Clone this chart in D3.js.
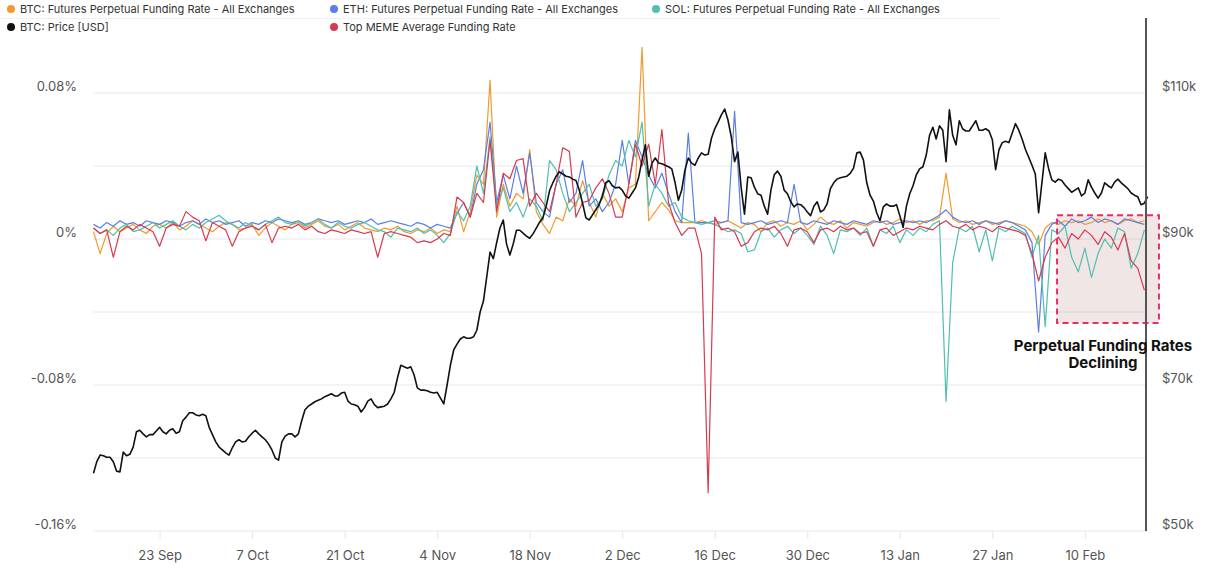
<!DOCTYPE html>
<html>
<head>
<meta charset="utf-8">
<script src="https://cdn.jsdelivr.net/npm/d3@7"></script>
<style>
  body { margin: 0; background: #fff; font-family: Inter, "Noto Sans", sans-serif; }
  svg text { font-family: Inter, "Noto Sans", sans-serif; }
</style>
</head>
<body>
<script>
// ---- data ----
const seriesStart = "2024-09-13";
const tickDates = ["2024-09-23", "2024-10-07", "2024-10-21", "2024-11-04", "2024-11-18", "2024-12-02",
  "2024-12-16", "2024-12-30", "2025-01-13", "2025-01-27", "2025-02-10"];
const leftTicks = [-0.16, -0.08, 0, 0.08];
const gridTicks = [-0.16, -0.12, -0.08, -0.04, 0, 0.04, 0.08];
const rightTicks = [50, 70, 90, 110];
const seriesNames = ["BTC: Futures Perpetual Funding Rate - All Exchanges", "ETH: Futures Perpetual Funding Rate - All Exchanges",
  "SOL: Futures Perpetual Funding Rate - All Exchanges", "BTC: Price [USD]", "Top MEME Average Funding Rate"];
const noteText = ["Perpetual Funding Rates", "Declining"];

// daily funding rate, in %
const btcFunding = [
  0.004, -0.008, 0.003, 0.007, 0.004, 0.006, 0.008, 0.005, 0.003, 0.007,
  0.008, 0.006, 0.009, 0.005, 0.007, 0.010, 0.008, 0.006, 0.004, 0.007,
  0.009, 0.008, 0.005, 0.006, 0.008, 0.002, 0.006, 0.009, 0.007, 0.005,
  0.008, 0.009, 0.006, 0.008, 0.010, 0.007, 0.006, 0.008, 0.005, 0.007,
  0.009, 0.006, 0.005, 0.004, 0.006, 0.005, 0.007, 0.004, 0.003, 0.005,
  0.004, 0.006, 0.003, 0.005, 0.004, 0.018, 0.004, 0.015, 0.035, 0.030,
  0.087, 0.012, 0.030, 0.018, 0.025, 0.022, 0.049, 0.015, 0.008, 0.003,
  0.012, 0.010, 0.022, 0.018, 0.032, 0.020, 0.012, 0.025, 0.018, 0.022,
  0.015, 0.028, 0.030, 0.105, 0.010, 0.015, 0.020, 0.016, 0.010, 0.009,
  0.009, 0.009, 0.010, 0.009, 0.008, 0.009, 0.010, 0.008, 0.006, 0.009,
  0.008, 0.004, 0.009, 0.010, 0.007, 0.009, 0.008, 0.010, 0.005, 0.008,
  0.012, 0.009, 0.008, 0.010, 0.006, 0.009, 0.008, 0.007, 0.009, 0.010,
  0.008, 0.009, 0.011, 0.009, 0.010, 0.008, 0.010, 0.010, 0.012, 0.036,
  0.011, 0.009, 0.010, 0.008, 0.009, 0.010, 0.008, 0.009, 0.010, 0.009,
  0.008, 0.007, 0.004, -0.003, 0.006, 0.009, 0.008, 0.010, 0.009, 0.010,
  0.008, 0.009, 0.011, 0.009, 0.010, 0.008, 0.010, 0.011, 0.009, 0.010
];
const ethFunding = [
  0.008, 0.006, 0.009, 0.007, 0.010, 0.008, 0.009, 0.007, 0.010, 0.009,
  0.008, 0.010, 0.009, 0.007, 0.009, 0.010, 0.008, 0.011, 0.009, 0.010,
  0.008, 0.009, 0.010, 0.007, 0.009, 0.008, 0.010, 0.009, 0.011, 0.010,
  0.009, 0.010, 0.008, 0.009, 0.011, 0.010, 0.009, 0.010, 0.008, 0.009,
  0.010, 0.009, 0.011, 0.008, 0.009, 0.010, 0.009, 0.008, 0.007, 0.009,
  0.008, 0.006, 0.008, 0.007, 0.006, 0.014, 0.020, 0.012, 0.030, 0.038,
  0.064, 0.020, 0.035, 0.022, 0.040, 0.025, 0.047, 0.020, 0.015, 0.012,
  0.030, 0.038, 0.020, 0.025, 0.043, 0.018, 0.022, 0.015, 0.020, 0.030,
  0.054, 0.030, 0.054, 0.045, 0.035, 0.028, 0.036, 0.025, 0.015, 0.009,
  0.058, 0.009, 0.009, 0.009, 0.010, 0.009, 0.010, 0.070, 0.009, 0.008,
  0.009, 0.010, 0.008, 0.009, 0.010, 0.009, 0.030, 0.009, 0.008, 0.010,
  0.009, 0.008, 0.010, 0.009, 0.008, 0.010, 0.009, 0.008, 0.010, 0.009,
  0.010, 0.008, 0.009, 0.010, 0.009, 0.010, 0.009, 0.011, 0.013, 0.016,
  0.012, 0.010, 0.009, 0.010, 0.008, 0.010, 0.009, 0.008, 0.010, 0.009,
  0.007, 0.005, -0.002, -0.051, 0.002, 0.008, 0.010, 0.007, 0.011, 0.009,
  0.010, 0.012, 0.009, 0.011, 0.010, 0.008, 0.011, 0.010, 0.009, 0.008
];
const solFunding = [
  0.006, 0.003, 0.005, 0.002, 0.006, 0.008, 0.004, 0.005, 0.007, 0.009,
  0.006, 0.008, 0.010, 0.007, 0.005, 0.008, 0.006, 0.009, 0.011, 0.013,
  0.010, 0.008, 0.006, 0.009, 0.007, 0.005, 0.008, 0.010, 0.012, 0.009,
  0.008, 0.010, 0.007, 0.009, 0.011, 0.008, 0.006, 0.009, 0.007, 0.006,
  0.008, 0.009, 0.007, 0.005, 0.004, 0.001, 0.006, 0.005, 0.004, 0.006,
  0.003, 0.005, 0.002, -0.002, 0.003, 0.015, 0.010, 0.018, 0.040, 0.025,
  0.056, 0.018, 0.028, 0.015, 0.020, 0.012, 0.022, 0.018, 0.010, 0.043,
  0.038, 0.025, 0.015, 0.020, 0.025, 0.030, 0.018, 0.022, 0.035, 0.043,
  0.040, 0.054, 0.045, 0.064, 0.018, 0.030, 0.025, 0.018, 0.020, 0.012,
  0.010, 0.009, 0.008, 0.009, 0.008, 0.006, 0.004, 0.005, 0.003, -0.007,
  -0.006, 0.004, 0.006, 0.001, 0.005, 0.007, 0.003, 0.006, 0.002, -0.003,
  0.007, 0.002, -0.008, 0.005, 0.004, 0.006, 0.002, 0.006, -0.004, 0.005,
  0.003, 0.007, -0.002, 0.005, 0.002, 0.006, 0.004, 0.008, 0.010, -0.089,
  -0.013, 0.006, 0.004, 0.007, -0.007, 0.005, -0.012, 0.006, 0.004, 0.007,
  0.005, 0.003, -0.010, 0.002, -0.048, 0.005, 0.003, 0.007, -0.010, -0.018,
  -0.005, -0.021, -0.008, 0.000, -0.005, 0.006, 0.004, -0.016, -0.008, 0.005
];
const memeFunding = [
  0.006, 0.003, 0.005, -0.010, 0.004, 0.007, 0.005, 0.008, 0.006, 0.004,
  -0.004, 0.006, 0.008, 0.007, 0.015, 0.012, 0.010, -0.001, 0.009, 0.007,
  0.005, -0.004, 0.004, 0.006, 0.007, 0.005, 0.008, -0.002, 0.006, 0.007,
  0.006, 0.008, 0.005, 0.007, 0.004, 0.003, 0.005, 0.004, 0.003, 0.005,
  0.004, 0.003, 0.004, -0.010, 0.003, 0.004, 0.003, 0.002, 0.001, -0.002,
  -0.001, -0.002, 0.000, 0.003, 0.002, 0.023, 0.020, 0.012, 0.025, 0.020,
  0.054, 0.015, 0.036, 0.033, 0.043, 0.044, 0.018, 0.025, 0.020, 0.015,
  0.030, 0.050, 0.048, 0.012, 0.020, 0.021, 0.028, 0.033, 0.025, 0.012,
  0.012, 0.030, 0.052, 0.040, 0.052, 0.030, 0.060, 0.020, 0.009, 0.002,
  0.006, 0.006, -0.008, -0.139, 0.012, 0.005, 0.006, 0.004, -0.004, -0.002,
  0.004, 0.006, 0.005, 0.007, 0.003, -0.004, 0.005, 0.006, 0.004, -0.002,
  0.005, 0.006, 0.004, 0.007, 0.005, 0.006, 0.003, 0.004, -0.004, 0.005,
  0.006, 0.002, 0.004, 0.006, 0.005, 0.007, 0.006, 0.005, 0.008, 0.010,
  0.007, 0.006, 0.008, 0.005, 0.007, 0.006, 0.004, 0.007, 0.006, 0.005,
  0.004, 0.002, -0.008, -0.023, -0.010, -0.002, 0.001, -0.005, 0.003, 0.000,
  0.005, 0.002, -0.003, 0.004, 0.001, -0.006, 0.003, -0.012, -0.016, -0.028
];
// BTC price every 12 hours, in $k
const btcPrice = [
  57.9, 59.5, 60.4, 60.3, 60.1, 60.1, 59.5, 58.2, 58.1, 60.8,
  60.3, 60.5, 61.5, 63.6, 63.8, 63.3, 62.9, 63.2, 63.2, 63.7,
  64.2, 63.6, 63.3, 63.8, 64.0, 63.4, 63.6, 65.1, 65.6, 66.2,
  66.2, 65.9, 65.8, 66.0, 65.8, 64.2, 63.2, 62.2, 61.5, 61.1,
  60.7, 60.4, 61.4, 62.2, 62.5, 62.2, 62.3, 62.9, 63.4, 63.8,
  63.3, 62.9, 62.5, 61.9, 61.1, 60.0, 59.7, 62.2, 63.0, 63.3,
  63.3, 62.9, 63.3, 65.1, 66.6, 67.1, 67.4, 67.7, 67.9, 68.1,
  68.4, 68.6, 68.8, 68.5, 68.5, 68.9, 69.0, 67.8, 67.4, 67.3,
  67.1, 66.3, 66.9, 67.8, 68.1, 67.3, 66.9, 67.0, 67.1, 67.4,
  68.1, 69.0, 71.0, 72.7, 72.5, 72.3, 72.5, 71.4, 69.6, 69.3,
  69.3, 69.2, 69.0, 68.9, 69.0, 68.2, 67.4, 70.0, 72.7, 74.8,
  75.6, 76.3, 76.6, 76.4, 76.4, 76.6, 77.5, 80.0, 81.5, 84.8,
  88.2, 87.3, 89.5, 91.5, 92.6, 89.3, 87.8, 89.3, 91.2, 91.2,
  90.8, 90.4, 90.1, 90.7, 91.5, 92.3, 92.9, 94.5, 96.6, 97.7,
  98.6, 99.2, 98.9, 98.6, 98.5, 98.2, 98.0, 96.7, 94.9, 92.9,
  92.6, 93.3, 94.0, 94.7, 95.9, 97.7, 98.0, 97.3, 97.0, 97.1,
  96.7, 95.9, 95.6, 96.3, 97.0, 98.5, 100.8, 102.9, 98.6, 100.4,
  101.1, 100.4, 100.3, 100.1, 99.9, 99.6, 97.7, 95.3, 96.7, 99.5,
  101.1, 100.4, 100.1, 101.1, 101.8, 101.5, 101.6, 103.8, 105.1, 106.0,
  107.0, 107.8, 106.3, 104.0, 100.6, 101.9, 97.0, 93.4, 98.5, 98.4,
  97.1, 96.2, 96.0, 94.5, 93.4, 96.7, 98.8, 99.3, 98.6, 96.7,
  96.2, 95.1, 94.4, 94.8, 94.7, 94.3, 93.7, 93.2, 94.5, 95.1,
  93.7, 94.0, 94.8, 96.9, 97.7, 98.2, 98.4, 98.5, 98.6, 99.0,
  99.7, 101.8, 101.9, 100.8, 97.7, 96.0, 95.2, 93.6, 92.5, 94.4,
  94.8, 94.5, 94.5, 94.7, 93.2, 91.6, 94.5, 96.2, 97.3, 98.8,
  99.6, 99.9, 101.5, 104.2, 105.3, 103.7, 105.5, 104.9, 100.6, 107.7,
  104.2, 102.9, 106.2, 105.1, 104.8, 104.8, 105.5, 106.2, 104.9, 104.9,
  105.1, 104.8, 103.6, 99.5, 102.2, 103.2, 103.4, 103.2, 104.5, 105.8,
  104.9, 103.7, 102.3, 101.2, 100.1, 98.9, 93.6, 97.7, 101.8, 99.7,
  98.1, 97.8, 98.2, 98.0, 97.4, 96.9, 96.4, 96.7, 97.0, 95.9,
  96.3, 98.1, 97.1, 96.3, 95.6, 96.3, 97.7, 97.3, 97.0, 97.8,
  98.2, 97.7, 97.3, 96.9, 96.3, 96.0, 95.8, 94.7, 94.9, 95.8
];
const noteFrom = "2025-02-05T19:00";
const noteTo = "2025-02-21T05:00";
const noteRate = [0.013, -0.046];

// ---- chart ----
const W = 1205, H = 572;
const parseDay = d3.timeParse("%Y-%m-%d");
const parseHour = d3.timeParse("%Y-%m-%dT%H:%M");
const start = parseDay(seriesStart);

const x = d3.scaleTime()
  .domain([start, d3.timeHour.offset(start, 159 * 24 + 6)])
  .range([93.5, 1146]);
const yL = d3.scaleLinear().domain([-0.16, 0.08]).range([531, 93]);
const yR = d3.scaleLinear().domain([50, 110]).range([531, 93]);

const svg = d3.select("body").append("svg").attr("width", W).attr("height", H);

// legend
const colors = ["#f29a2e", "#5b7fe6", "#4fbfae", "#111111", "#d63a4f"];
const legendPos = [[11, 9], [334, 9], [656, 9], [11, 27], [334, 27]];
svg.append("line").attr("x1", 0).attr("x2", 1000).attr("y1", 18.5).attr("y2", 18.5)
  .attr("stroke", "#f0f0f0");
const legend = svg.selectAll("g.leg").data(seriesNames).enter().append("g")
  .attr("class", "leg")
  .attr("transform", (d, i) => "translate(" + legendPos[i][0] + "," + legendPos[i][1] + ")");
legend.append("circle").attr("r", 4).attr("fill", (d, i) => colors[i]);
legend.append("text").attr("x", 9).attr("dy", "0.35em")
  .style("font-size", "11px").attr("fill", "#333").text(d => d);

// grid
svg.append("g").selectAll("line").data(gridTicks).enter().append("line")
  .attr("x1", 93).attr("x2", 1146)
  .attr("y1", d => yL(d)).attr("y2", d => yL(d))
  .attr("stroke", "#e8e8e8").attr("stroke-width", 1);

// x axis
const xAxis = d3.axisBottom(x)
  .tickValues(tickDates.map(parseDay))
  .tickFormat(d3.timeFormat("%-d %b"))
  .tickSize(8).tickPadding(12);
const gx = svg.append("g").attr("transform", "translate(0,531)").call(xAxis);
gx.select(".domain").remove();
gx.selectAll(".tick line").attr("stroke", "#e6e6e6");
gx.selectAll(".tick text").style("font-size", "13px").attr("fill", "#555");

// left axis
const gl = svg.append("g").attr("transform", "translate(77,0)")
  .call(d3.axisLeft(yL).tickValues(leftTicks).tickSize(0).tickPadding(0)
    .tickFormat(d => (d === 0 ? "0" : d.toFixed(2)) + "%"));
gl.select(".domain").remove();
gl.selectAll(".tick text").attr("dy", "-0.2em").style("font-size", "13px").attr("fill", "#555");

// right axis
const gr = svg.append("g").attr("transform", "translate(1162,0)")
  .call(d3.axisRight(yR).tickValues(rightTicks).tickSize(0).tickPadding(0)
    .tickFormat(d => "$" + d + "k"));
gr.select(".domain").remove();
gr.selectAll(".tick text").attr("dy", "-0.2em").style("font-size", "13px").attr("fill", "#555");

// annotation box
const bx0 = x(parseHour(noteFrom)), bx1 = x(parseHour(noteTo));
svg.append("rect")
  .attr("x", bx0).attr("y", yL(noteRate[0]))
  .attr("width", bx1 - bx0)
  .attr("height", yL(noteRate[1]) - yL(noteRate[0]))
  .attr("fill", "rgba(170,105,105,0.17)");

// funding lines
const fundingLine = d3.line()
  .x((d, i) => x(d3.timeDay.offset(start, i)))
  .y(d => yL(d));
[btcFunding, ethFunding, solFunding].forEach((s, k) => {
  svg.append("path").datum(s).attr("d", fundingLine)
    .attr("fill", "none").attr("stroke", colors[k]).attr("stroke-width", 1.2)
    .attr("stroke-linejoin", "round");
});
svg.append("path").datum(memeFunding).attr("d", fundingLine)
  .attr("fill", "none").attr("stroke", colors[4]).attr("stroke-width", 1.2)
  .attr("stroke-linejoin", "round");

// price line
const priceLine = d3.line()
  .x((d, i) => x(d3.timeHour.offset(start, 12 * i)))
  .y(d => yR(d));
svg.append("path").datum(btcPrice).attr("d", priceLine)
  .attr("fill", "none").attr("stroke", colors[3]).attr("stroke-width", 1.6)
  .attr("stroke-linejoin", "round");

// dashed box outline
svg.append("rect")
  .attr("x", bx0).attr("y", yL(noteRate[0]))
  .attr("width", bx1 - bx0)
  .attr("height", yL(noteRate[1]) - yL(noteRate[0]))
  .attr("fill", "none").attr("stroke", "#ea2d62").attr("stroke-width", 2)
  .attr("stroke-dasharray", "6,4");

// vertical marker
svg.append("line").attr("x1", 1146).attr("x2", 1146).attr("y1", 18).attr("y2", 531)
  .attr("stroke", "#555").attr("stroke-width", 2);

// note text
svg.append("g").selectAll("text").data(noteText).enter().append("text")
  .attr("x", 1103).attr("y", (d, i) => 351 + i * 17)
  .attr("text-anchor", "middle")
  .style("font-size", "15px").style("font-weight", "700").attr("fill", "#111")
  .text(d => d);
</script>
</body>
</html>
